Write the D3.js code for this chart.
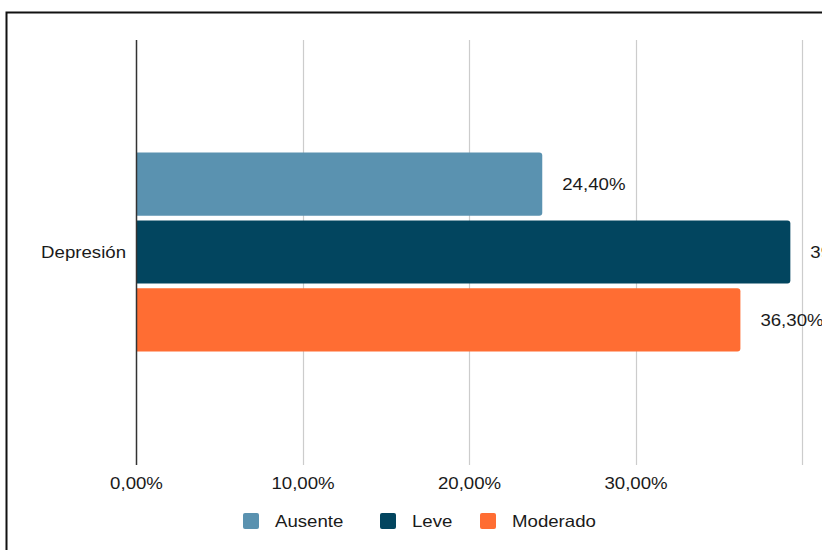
<!DOCTYPE html>
<html>
<head>
<meta charset="utf-8">
<script src="https://cdn.jsdelivr.net/npm/d3@7"></script>
<style>
html,body{margin:0;padding:0;background:#fff;overflow:hidden;}
text{font-family:"Liberation Sans",Arial,sans-serif;}
</style>
</head>
<body>
<svg id="chart" width="822" height="550"></svg>
<script>
const categories = ["Depresión"];
const seriesNames = ["Ausente", "Leve", "Moderado"];
const seriesValues = [[24.4], [39.3], [36.3]];
const seriesColors = ["#5A92B0", "#02455F", "#FF6D33"];
const xTicks = [0, 10, 20, 30, 40];
const fmt = v => v.toFixed(2).replace(".", ",") + "%";

const FS = 16.5, SX = 1.13;
const svg = d3.select("#chart");

// stretched text helper
function label(g, x, y, txt, anchor) {
  const t = g.append("g").attr("transform", `translate(${x},${y}) scale(${SX},1)`);
  t.append("text").attr("dy", "0.35em").attr("font-size", FS).attr("fill", "#1a1a1a")
    .attr("text-anchor", anchor || "start").text(txt);
}

// frame
svg.append("path")
  .attr("d", "M6.5,560 L6.5,12.5 L830,12.5")
  .attr("fill", "none").attr("stroke", "#111").attr("stroke-width", 2);

const x = d3.scaleLinear().domain([0, 40]).range([136, 802]);
const y = d3.scaleBand().domain(categories).range([40, 464]);
const ys = d3.scaleBand().domain(seriesNames).range([0, 199]).paddingInner(0.07);

// grid
svg.append("g").selectAll("line").data(xTicks.slice(1)).join("line")
  .attr("x1", d => Math.round(x(d)) + 0.5).attr("x2", d => Math.round(x(d)) + 0.5)
  .attr("y1", 40).attr("y2", 465)
  .attr("stroke", "#cccccc").attr("stroke-width", 1.2);

// x axis labels
const xAxis = d3.axisBottom(x).tickValues(xTicks.slice(0, 4)).tickFormat(fmt).tickSize(0).tickPadding(0);
const gx = svg.append("g").attr("transform", "translate(0,483)").call(xAxis);
gx.select(".domain").remove();
gx.selectAll("text").attr("font-size", FS).attr("fill", "#1a1a1a")
  .attr("y", 0).attr("dy", "0.35em").attr("transform", `scale(${SX},1)`)
  .attr("font-family", "'Liberation Sans', Arial, sans-serif");

// bars
const groupTop = cat => y(cat) + y.bandwidth() / 2 - 99.5;
const labels = svg.append("g");
seriesNames.forEach((s, si) => {
  categories.forEach((c, ci) => {
    const v = seriesValues[si][ci];
    const x0 = x(0), x1 = x(v);
    const yt = groupTop(c) + ys(s), h = ys.bandwidth(), r = 3;
    const p = `M${x0},${yt} L${x1 - r},${yt} Q${x1},${yt} ${x1},${yt + r} L${x1},${yt + h - r} Q${x1},${yt + h} ${x1 - r},${yt + h} L${x0},${yt + h} Z`;
    svg.append("path").attr("d", p).attr("fill", seriesColors[si]);
    label(labels, x1 + 20, yt + h / 2, fmt(v));
  });
});

// zero axis line
svg.append("line").attr("x1", x(0) + 0.5).attr("x2", x(0) + 0.5).attr("y1", 40).attr("y2", 465)
  .attr("stroke", "#333").attr("stroke-width", 1.5);

// category labels
const gy = svg.append("g");
categories.forEach(c => label(gy, x(0) - 10, y(c) + y.bandwidth() / 2, c, "end"));

// legend
const legendX = [243, 380, 480];
const lg = svg.append("g");
seriesNames.forEach((s, i) => {
  lg.append("rect").attr("x", legendX[i]).attr("y", 513).attr("width", 16).attr("height", 16)
    .attr("rx", 2).attr("fill", seriesColors[i]);
  label(lg, legendX[i] + 32, 521, s);
});
</script>
</body>
</html>
